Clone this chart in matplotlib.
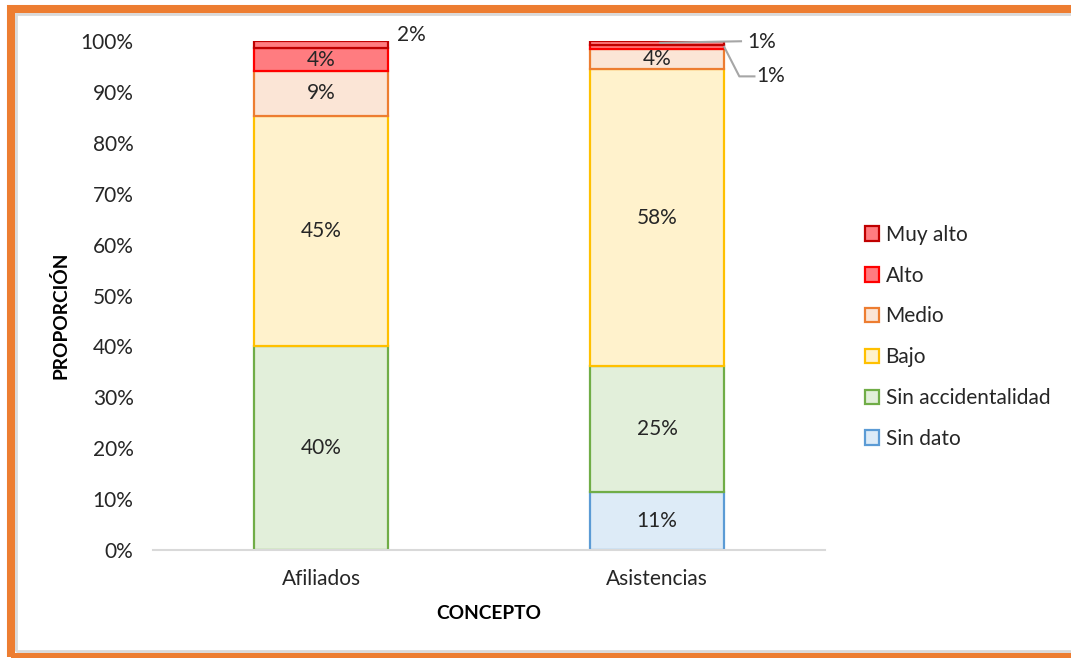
import matplotlib
matplotlib.use("Agg")
import matplotlib.pyplot as plt
from matplotlib.patches import Rectangle
from matplotlib.lines import Line2D

plt.rcParams['font.family'] = ['Lato', 'DejaVu Sans']

categories = ["Afiliados", "Asistencias"]
series_names = ["Sin dato", "Sin accidentalidad", "Bajo", "Medio", "Alto", "Muy alto"]
sin_dato = [0.0, 11.4]
sin_accidentalidad = [40.1, 24.7]
bajo = [45.2, 58.4]
medio = [8.8, 3.9]
alto = [4.5, 0.9]
muy_alto = [1.4, 0.7]
label_texts = {
    "Sin dato": [None, "11%"],
    "Sin accidentalidad": ["40%", "25%"],
    "Bajo": ["45%", "58%"],
    "Medio": ["9%", "4%"],
    "Alto": ["4%", None],
    "Muy alto": [None, None],
}
y_ticks = list(range(0, 101, 10))

values = [sin_dato, sin_accidentalidad, bajo, medio, alto, muy_alto]
faces = ["#DDEBF7", "#E2EFDA", "#FFF2CC", "#FBE5D6", "#FF7C80", "#FF7C80"]
edges = ["#5B9BD5", "#70AD47", "#FFC000", "#ED7D31", "#FF0000", "#C00000"]

FS = 15
W, H = 1071, 658
fig = plt.figure(figsize=(W / 100, H / 100), dpi=100)
ax = fig.add_axes([153 / W, 1 - 550 / H, 672 / W, 509 / H])

x = list(range(len(categories)))
bottom = [0.0] * len(categories)
bars = {}
for name, vals, fc, ec in zip(series_names, values, faces, edges):
    b = ax.bar(x, vals, 0.4, bottom=bottom, color=fc, edgecolor=ec, linewidth=1.6, label=name, zorder=2)
    bars[name] = b
    for i, (v, bt) in enumerate(zip(vals, bottom)):
        t = label_texts[name][i]
        if t:
            ax.text(x[i], bt + v / 2, t, ha="center", va="center", fontsize=FS, color="#262626", zorder=3)
    bottom = [bt + v for bt, v in zip(bottom, vals)]

ax.set_xlim(-0.5, 1.5)
ax.set_ylim(0, 100)
ax.set_yticks(y_ticks)
ax.set_yticklabels([f"{t}%" for t in y_ticks], fontsize=FS, color="#262626")
ax.set_xticks(x)
ax.set_xticklabels(categories, fontsize=FS, color="#262626")
ax.tick_params(axis="both", length=0)
ax.tick_params(axis="y", pad=14)
ax.tick_params(axis="x", pad=14)
for s in ["left", "right", "top"]:
    ax.spines[s].set_visible(False)
ax.spines["bottom"].set_color("#D9D9D9")
ax.spines["bottom"].set_linewidth(1.5)
ax.set_ylabel("PROPORCIÓN", fontsize=13.8, fontweight="bold", color="#000000")
ax.yaxis.set_label_coords(-0.125, 0.462)
ax.set_xlabel("CONCEPTO", fontsize=13.8, fontweight="bold", color="#000000", labelpad=11)

# outside labels for small segments
ax.text(0.225, 101.2, "2%", ha="left", va="center", fontsize=FS, color="#262626", clip_on=False)
# Asistencias Muy alto
y_ma = sum(v[1] for v in values[:5]) + muy_alto[1] / 2
ax.add_line(Line2D([1.01, 1.25], [y_ma, y_ma + 0.3], color="#A6A6A6", lw=1.5, clip_on=False))
ax.text(1.27, y_ma + 0.2, "1%", ha="left", va="center", fontsize=FS, color="#262626", clip_on=False)
# Asistencias Alto
y_a = sum(v[1] for v in values[:4]) + alto[1] / 2
ax.add_line(Line2D([1.2, 1.245, 1.29], [y_a, y_a - 5.8, y_a - 5.8], color="#A6A6A6", lw=1.5, clip_on=False))
ax.text(1.295, y_a - 5.8, "1%", ha="left", va="center", fontsize=FS, color="#262626", clip_on=False)

handles = [bars[n][0] for n in reversed(series_names)]
leg = fig.legend(handles, list(reversed(series_names)), loc="upper left",
                 bbox_to_anchor=(846 / W, 1 - 206 / H), frameon=False, fontsize=FS,
                 labelspacing=1.0, handlelength=0.7, handleheight=0.7, handletextpad=0.3,
                 labelcolor="#262626")

# orange frame
fig.add_artist(Rectangle((16 / W, 0.01), 1.0, 1 - 14 / H - 0.01, transform=fig.transFigure,
                         fill=False, edgecolor="#D9D9D9", linewidth=2.0, zorder=0))
fig.add_artist(Rectangle((11 / W, 0.002), 1.2, 1 - 9 / H - 0.002, transform=fig.transFigure,
                         fill=False, edgecolor="#ED7D31", linewidth=5.8, zorder=1))

fig.savefig("out.png", dpi=100)
